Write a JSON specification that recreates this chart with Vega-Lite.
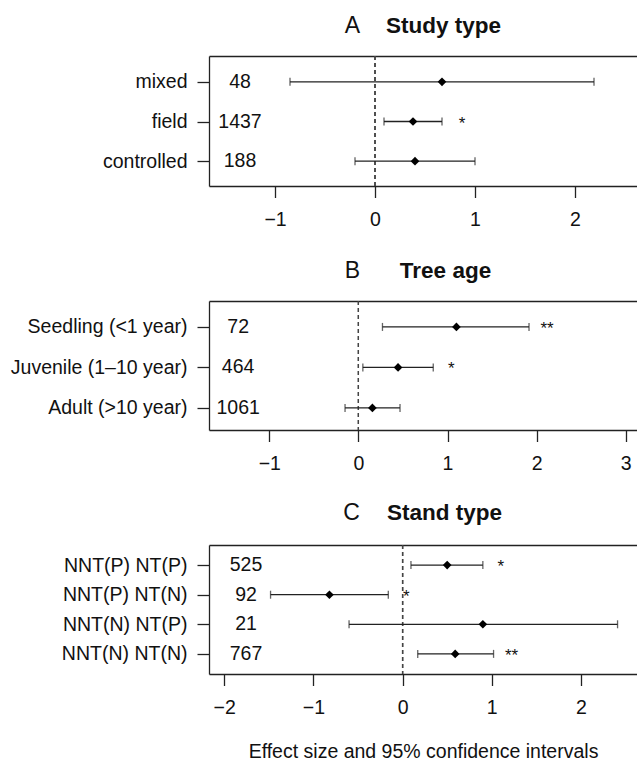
{
  "$schema": "https://vega.github.io/schema/vega-lite/v6.json",
  "padding": {"left": 10, "top": 14, "right": 0, "bottom": 0},
  "background": "white",
  "config": {
    "font": "Liberation Sans",
    "view": {"stroke": null},
    "axis": {"grid": false, "domainColor": "#222", "tickColor": "#222", "labelColor": "#111", "titleColor": "#111", "domainWidth": 1.3, "tickWidth": 1.3, "labelFont": "Liberation Sans", "titleFont": "Liberation Sans"}
  },
  "datasets": {
    "studytype": [
      {"group": "mixed", "n": 48, "est": 0.67, "lo": -0.85, "hi": 2.19, "sig": ""},
      {"group": "field", "n": 1437, "est": 0.38, "lo": 0.09, "hi": 0.67, "sig": "*"},
      {"group": "controlled", "n": 188, "est": 0.40, "lo": -0.20, "hi": 1.00, "sig": ""}
    ],
    "treeage": [
      {"group": "Seedling (<1 year)", "n": 72, "est": 1.10, "lo": 0.27, "hi": 1.915, "sig": "**"},
      {"group": "Juvenile (1–10 year)", "n": 464, "est": 0.445, "lo": 0.05, "hi": 0.84, "sig": "*"},
      {"group": "Adult (>10 year)", "n": 1061, "est": 0.157, "lo": -0.15, "hi": 0.467, "sig": ""}
    ],
    "standtype": [
      {"group": "NNT(P) NT(P)", "n": 525, "est": 0.50, "lo": 0.094, "hi": 0.90, "sig": "*"},
      {"group": "NNT(P) NT(N)", "n": 92, "est": -0.82, "lo": -1.48, "hi": -0.16, "sig": "*"},
      {"group": "NNT(N) NT(P)", "n": 21, "est": 0.90, "lo": -0.60, "hi": 2.41, "sig": ""},
      {"group": "NNT(N) NT(N)", "n": 767, "est": 0.59, "lo": 0.17, "hi": 1.02, "sig": "**"}
    ]
  },
  "vconcat": [
    {
      "width": 428, "height": 130,
      "data": {"name": "studytype"},
      "resolve": {"axis": {"x": "independent"}},
      "encoding": {
        "y": {"field": "group", "type": "nominal", "sort": ["mixed", "field", "controlled"],
          "scale": {"type": "point", "padding": 0.64, "align": 0.51},
          "axis": {"title": "A", "titleAngle": 0, "titleX": 143, "titleY": -24, "titleAlign": "center", "titleBaseline": "alphabetic", "titleFontSize": 23, "titleFontWeight": "normal", "labelFontSize": 19.5, "labelPadding": 10, "tickSize": 12}}
      },
      "layer": [
        {"mark": {"type": "rule", "strokeDash": [4, 3], "strokeWidth": 1.2, "color": "#444"},
          "encoding": {"x": {"datum": 0, "type": "quantitative", "scale": {"domain": [-1.66, 2.62], "nice": false, "zero": false},
            "axis": {"orient": "bottom", "values": [-1, 0, 1, 2], "tickSize": 11.5, "labelPadding": 13, "labelFontSize": 19.5, "title": null}},
            "y": null}},
        {"mark": {"type": "rule", "strokeWidth": 1.3, "color": "#222"},
          "encoding": {"x": {"field": "lo", "type": "quantitative", "axis": {"orient": "top", "labels": false, "ticks": false, "domain": true, "title": "Study type", "titleFontWeight": "bold", "titleFontSize": 22.5, "titleX": 234, "titleY": -24, "titleAlign": "center", "titleBaseline": "alphabetic"}}, "x2": {"field": "hi"}}},
        {"mark": {"type": "tick", "orient": "vertical", "size": 8, "thickness": 1.3, "color": "#222"},
          "encoding": {"x": {"field": "lo", "type": "quantitative", "axis": null}}},
        {"mark": {"type": "tick", "orient": "vertical", "size": 8, "thickness": 1.3, "color": "#222"},
          "encoding": {"x": {"field": "hi", "type": "quantitative", "axis": null}}},
        {"mark": {"type": "point", "shape": "diamond", "filled": true, "size": 75, "color": "#000", "opacity": 1},
          "encoding": {"x": {"field": "est", "type": "quantitative", "axis": null}}},
        {"mark": {"type": "text", "fontSize": 19.5, "align": "center", "baseline": "middle", "color": "#111"},
          "encoding": {"x": {"datum": -1.35, "type": "quantitative", "axis": null}, "text": {"field": "n"}}},
        {"mark": {"type": "text", "fontSize": 17, "align": "center", "baseline": "middle", "dx": 20, "dy": 2, "color": "#111"},
          "encoding": {"x": {"field": "hi", "type": "quantitative", "axis": null}, "text": {"field": "sig"}}}
      ]
    },
    {
      "width": 428, "height": 129,
      "data": {"name": "treeage"},
      "resolve": {"axis": {"x": "independent"}},
      "encoding": {
        "y": {"field": "group", "type": "nominal", "sort": ["Seedling (<1 year)", "Juvenile (1–10 year)", "Adult (>10 year)"],
          "scale": {"type": "point", "padding": 0.593, "align": 0.54},
          "axis": {"title": "B", "titleAngle": 0, "titleX": 143, "titleY": -24, "titleAlign": "center", "titleBaseline": "alphabetic", "titleFontSize": 23, "titleFontWeight": "normal", "labelFontSize": 19.5, "labelPadding": 10, "tickSize": 12}}
      },
      "layer": [
        {"mark": {"type": "rule", "strokeDash": [4, 3], "strokeWidth": 1.2, "color": "#444"},
          "encoding": {"x": {"datum": 0, "type": "quantitative", "scale": {"domain": [-1.677, 3.127], "nice": false, "zero": false},
            "axis": {"orient": "bottom", "values": [-1, 0, 1, 2, 3], "tickSize": 11.5, "labelPadding": 13, "labelFontSize": 19.5, "title": null}},
            "y": null}},
        {"mark": {"type": "rule", "strokeWidth": 1.3, "color": "#222"},
          "encoding": {"x": {"field": "lo", "type": "quantitative", "axis": {"orient": "top", "labels": false, "ticks": false, "domain": true, "title": "Tree age", "titleFontWeight": "bold", "titleFontSize": 22.5, "titleX": 236, "titleY": -24, "titleAlign": "center", "titleBaseline": "alphabetic"}}, "x2": {"field": "hi"}}},
        {"mark": {"type": "tick", "orient": "vertical", "size": 8, "thickness": 1.3, "color": "#222"},
          "encoding": {"x": {"field": "lo", "type": "quantitative", "axis": null}}},
        {"mark": {"type": "tick", "orient": "vertical", "size": 8, "thickness": 1.3, "color": "#222"},
          "encoding": {"x": {"field": "hi", "type": "quantitative", "axis": null}}},
        {"mark": {"type": "point", "shape": "diamond", "filled": true, "size": 75, "color": "#000", "opacity": 1},
          "encoding": {"x": {"field": "est", "type": "quantitative", "axis": null}}},
        {"mark": {"type": "text", "fontSize": 19.5, "align": "center", "baseline": "middle", "color": "#111"},
          "encoding": {"x": {"datum": -1.35, "type": "quantitative", "axis": null}, "text": {"field": "n"}}},
        {"mark": {"type": "text", "fontSize": 17, "align": "center", "baseline": "middle", "dx": 18, "dy": 2, "color": "#111"},
          "encoding": {"x": {"field": "hi", "type": "quantitative", "axis": null}, "text": {"field": "sig"}}}
      ]
    },
    {
      "width": 428, "height": 129,
      "data": {"name": "standtype"},
      "resolve": {"axis": {"x": "independent"}},
      "encoding": {
        "y": {"field": "group", "type": "nominal", "sort": ["NNT(P) NT(P)", "NNT(P) NT(N)", "NNT(N) NT(P)", "NNT(N) NT(N)"],
          "scale": {"type": "point", "padding": 0.68, "align": 0.5},
          "axis": {"title": "C", "titleAngle": 0, "titleX": 142, "titleY": -26, "titleAlign": "center", "titleBaseline": "alphabetic", "titleFontSize": 23, "titleFontWeight": "normal", "labelFontSize": 19.5, "labelPadding": 10, "tickSize": 12}}
      },
      "layer": [
        {"mark": {"type": "rule", "strokeDash": [4, 3], "strokeWidth": 1.2, "color": "#444"},
          "encoding": {"x": {"datum": 0, "type": "quantitative", "scale": {"domain": [-2.17, 2.628], "nice": false, "zero": false},
            "axis": {"orient": "bottom", "values": [-2, -1, 0, 1, 2], "tickSize": 11.5, "labelPadding": 13, "labelFontSize": 19.5, "title": "Effect size and 95% confidence intervals", "titleFontSize": 19.5, "titleFontWeight": "normal", "titlePadding": 25}},
            "y": null}},
        {"mark": {"type": "rule", "strokeWidth": 1.3, "color": "#222"},
          "encoding": {"x": {"field": "lo", "type": "quantitative", "axis": {"orient": "top", "labels": false, "ticks": false, "domain": true, "title": "Stand type", "titleFontWeight": "bold", "titleFontSize": 22.5, "titleX": 235, "titleY": -26, "titleAlign": "center", "titleBaseline": "alphabetic"}}, "x2": {"field": "hi"}}},
        {"mark": {"type": "tick", "orient": "vertical", "size": 8, "thickness": 1.3, "color": "#222"},
          "encoding": {"x": {"field": "lo", "type": "quantitative", "axis": null}}},
        {"mark": {"type": "tick", "orient": "vertical", "size": 8, "thickness": 1.3, "color": "#222"},
          "encoding": {"x": {"field": "hi", "type": "quantitative", "axis": null}}},
        {"mark": {"type": "point", "shape": "diamond", "filled": true, "size": 75, "color": "#000", "opacity": 1},
          "encoding": {"x": {"field": "est", "type": "quantitative", "axis": null}}},
        {"mark": {"type": "text", "fontSize": 19.5, "align": "center", "baseline": "middle", "color": "#111"},
          "encoding": {"x": {"datum": -1.755, "type": "quantitative", "axis": null}, "text": {"field": "n"}}},
        {"mark": {"type": "text", "fontSize": 17, "align": "center", "baseline": "middle", "dx": 18, "dy": 2, "color": "#111"},
          "encoding": {"x": {"field": "hi", "type": "quantitative", "axis": null}, "text": {"field": "sig"}}}
      ]
    }
  ],
  "bounds": "flush",
  "spacing": 115
}
